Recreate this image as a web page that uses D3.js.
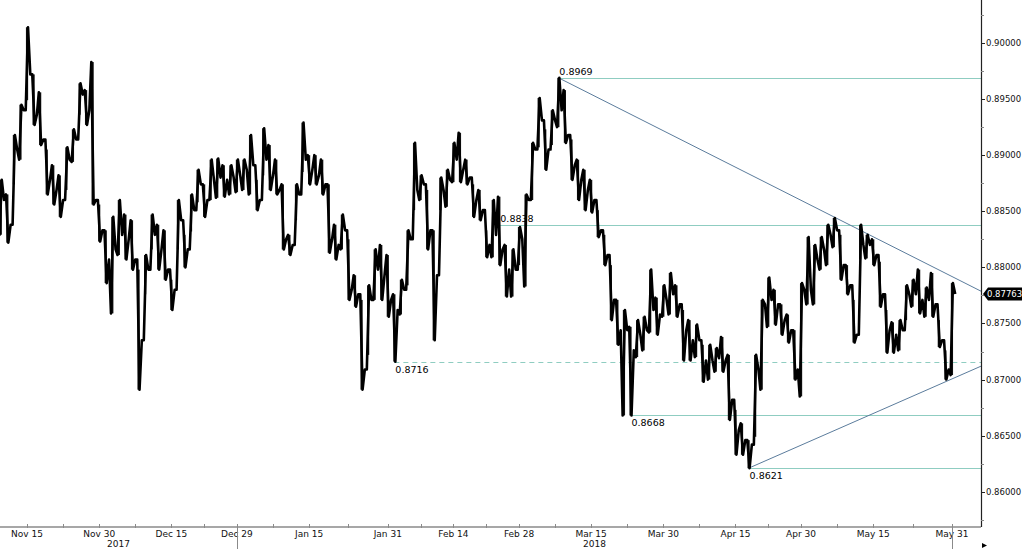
<!DOCTYPE html>
<html><head><meta charset="utf-8">
<script src="https://cdn.jsdelivr.net/npm/d3@7"></script>
<style>body{margin:0;background:#fff}svg{display:block}</style>
</head><body>
<svg id="chart" width="1024" height="549"></svg>
<script>
// ---------- DATA ----------
const firstDay = "2017-11-09"; // first trading day shown (weekdays only)
const highs = [0.8878,0.8865,0.8918,0.8945,0.9014,0.8972,0.8956,0.8905,0.8891,0.8882,
0.8907,0.8923,0.8964,0.8958,0.8983,0.8856,0.8833,0.8845,0.8860,0.8847,
0.8842,0.8798,0.8811,0.8847,0.8838,0.8833,0.8789,0.8860,0.8829,0.8865,
0.8887,0.8874,0.8896,0.8897,0.8891,0.8891,0.8896,0.8896,0.8918,0.8878,
0.8924,0.8909,0.8896,0.8874,0.8829,0.8874,0.8929,0.8900,0.8900,0.8896,
0.8874,0.8838,0.8847,0.8825,0.8793,0.8771,0.8784,0.8816,0.8820,0.8811,
0.8776,0.8789,0.8833,0.8911,0.8882,0.8869,0.8833,0.8880,0.8887,0.8911,
0.8920,0.8896,0.8874,0.8869,0.8833,0.8860,0.8863,0.8820,0.8816,0.8836,
0.8865,0.8911,0.8951,0.8923,0.8940,0.8969,0.8958,0.8914,0.8896,0.8887,
0.8878,0.8851,0.8829,0.8802,0.8771,0.8762,0.8747,0.8753,0.8756,0.8798,
0.8773,0.8784,0.8795,0.8784,0.8762,0.8753,0.8749,0.8731,0.8731,0.8728,
0.8738,0.8722,0.8673,0.8661,0.8646,0.8722,0.8771,0.8791,0.8780,0.8767,
0.8758,0.8744,0.8786,0.8827,0.8820,0.8827,0.8838,0.8844,0.8829,0.8802,
0.8771,0.8838,0.8829,0.8825,0.8805,0.8762,0.8751,0.8753,0.8784,0.8789,
0.8798,0.8782,0.8795,0.8753,0.8726,0.8786];
const lows = [0.8829,0.8822,0.8874,0.8896,0.8949,0.8927,0.8909,0.8865,0.8856,0.8845,
0.8869,0.8894,0.8936,0.8927,0.8856,0.8823,0.8786,0.8759,0.8811,0.8807,
0.8798,0.8691,0.8776,0.8816,0.8798,0.8789,0.8762,0.8816,0.8800,0.8832,
0.8858,0.8845,0.8860,0.8862,0.8863,0.8865,0.8867,0.8869,0.8865,0.8851,
0.8882,0.8869,0.8865,0.8816,0.8811,0.8842,0.8885,0.8874,0.8874,0.8865,
0.8813,0.8807,0.8816,0.8771,0.8765,0.8691,0.8722,0.8771,0.8771,0.8756,
0.8716,0.8758,0.8784,0.8851,0.8860,0.8816,0.8735,0.8851,0.8854,0.8876,
0.8876,0.8874,0.8845,0.8842,0.8809,0.8809,0.8802,0.8774,0.8774,0.8802,
0.8783,0.8860,0.8907,0.8887,0.8909,0.8925,0.8911,0.8878,0.8860,0.8851,
0.8849,0.8827,0.8802,0.8753,0.8731,0.8668,0.8668,0.8720,0.8726,0.8742,
0.8740,0.8756,0.8758,0.8756,0.8717,0.8717,0.8720,0.8698,0.8700,0.8707,
0.8707,0.8664,0.8633,0.8633,0.8621,0.8649,0.8691,0.8747,0.8749,0.8740,
0.8733,0.8700,0.8685,0.8767,0.8767,0.8798,0.8802,0.8818,0.8789,0.8776,
0.8733,0.8807,0.8808,0.8802,0.8765,0.8724,0.8724,0.8726,0.8753,0.8765,
0.8759,0.8756,0.8756,0.8729,0.8700,0.8704];
const closes = [0.8860,0.8838,0.8905,0.8940,0.8972,0.8936,0.8914,0.8878,0.8869,0.8860,
0.8896,0.8914,0.8954,0.8940,0.8860,0.8833,0.8807,0.8816,0.8829,0.8825,
0.8807,0.8735,0.8798,0.8829,0.8816,0.8798,0.8780,0.8842,0.8816,0.8851,
0.8874,0.8860,0.8878,0.8880,0.8878,0.8880,0.8882,0.8887,0.8891,0.8860,
0.8896,0.8882,0.8869,0.8825,0.8820,0.8865,0.8896,0.8887,0.8882,0.8874,
0.8825,0.8820,0.8833,0.8780,0.8776,0.8709,0.8771,0.8798,0.8793,0.8771,
0.8762,0.8780,0.8825,0.8869,0.8874,0.8833,0.8793,0.8869,0.8878,0.8896,
0.8887,0.8880,0.8860,0.8851,0.8820,0.8829,0.8816,0.8798,0.8798,0.8825,
0.8860,0.8905,0.8931,0.8905,0.8931,0.8940,0.8918,0.8891,0.8878,0.8869,
0.8860,0.8833,0.8811,0.8771,0.8744,0.8744,0.8726,0.8740,0.8744,0.8762,
0.8758,0.8771,0.8776,0.8767,0.8744,0.8735,0.8735,0.8717,0.8717,0.8719,
0.8717,0.8682,0.8655,0.8646,0.8642,0.8709,0.8767,0.8771,0.8767,0.8753,
0.8744,0.8709,0.8780,0.8780,0.8807,0.8816,0.8829,0.8833,0.8802,0.8784,
0.8740,0.8820,0.8820,0.8811,0.8776,0.8744,0.8740,0.8744,0.8776,0.8776,
0.8771,0.8771,0.8767,0.8735,0.8709,0.87763];

const xTickDates  = ["2017-11-15","2017-11-30","2017-12-15","2017-12-29","2018-01-15","2018-01-31","2018-02-14","2018-02-28","2018-03-15","2018-03-30","2018-04-15","2018-04-30","2018-05-15","2018-05-31"];
const xTickLabels = ["Nov 15","Nov 30","Dec 15","Dec 29","Jan 15","Jan 31","Feb 14","Feb 28","Mar 15","Mar 30","Apr 15","Apr 30","May 15","May 31"];
const yearLabels  = ["2017","2018"];
const yearEnds    = ["2017-12-29","2018-05-31"];
const yTickValues = [0.860,0.865,0.870,0.875,0.880,0.885,0.890,0.895,0.900];

const levelValues = [0.8969,0.8838,0.8716,0.8668,0.8621];
const levelLabels = ["0.8969","0.8838","0.8716","0.8668","0.8621"];
const levelStarts = ["2018-03-08","2018-02-23","2018-02-01","2018-03-23","2018-04-18"];
const upperTrend  = [["2018-03-08",0.8969],["2018-05-07",0.8845]];
const lowerTrend  = [["2018-04-18",0.8621],["2018-05-30",0.8698]];

// ---------- HELPERS ----------
const parse = d3.utcParse("%Y-%m-%d");
const base = parse("2017-11-15");
function tradingIndex(dateStr){
  const d = parse(dateStr);
  let n = 0;
  if (d >= base){
    for (let t = new Date(base); t < d; t.setUTCDate(t.getUTCDate()+1)){ const w=t.getUTCDay(); if(w!==0&&w!==6) n++; }
  } else {
    for (let t = new Date(d); t < base; t.setUTCDate(t.getUTCDate()+1)){ const w=t.getUTCDay(); if(w!==0&&w!==6) n--; }
  }
  return n;
}
const startIdx = tradingIndex(firstDay);

// ---------- LAYOUT ----------
const W = 1024, H = 549;
const plotRight = 981, axisY = 527;
const x = d3.scaleLinear().domain([-4.12, 145.43]).range([0, plotRight]);
const y = d3.scaleLinear().domain([0.85686, 0.90383]).range([axisY, 0]);

const svg = d3.select("#chart");
svg.append("rect").attr("width",W).attr("height",H).attr("fill","#fff");
svg.append("defs").append("clipPath").attr("id","plotclip")
  .append("rect").attr("x",0).attr("y",0).attr("width",plotRight).attr("height",axisY);

const font = "'DejaVu Sans', Verdana, sans-serif";

// ---------- LEVEL LINES ----------
const gLev = svg.append("g").attr("clip-path","url(#plotclip)");
levelValues.forEach((v,k)=>{
  const x0 = x(tradingIndex(levelStarts[k]));
  gLev.append("line").attr("x1",x0).attr("x2",plotRight)
    .attr("y1",Math.round(y(v))+0.5).attr("y2",Math.round(y(v))+0.5)
    .attr("stroke","#8fcdc1").attr("stroke-width",1)
    .attr("stroke-dasharray", k===2 ? "5,4" : null);
});

// ---------- TREND LINES ----------
function drawTrend(pts){
  const i0 = tradingIndex(pts[0][0]), i1 = tradingIndex(pts[1][0]);
  const slope = (pts[1][1]-pts[0][1])/(i1-i0);
  const iEnd = x.invert(plotRight);
  gLev.append("line")
    .attr("x1",x(i0)).attr("y1",y(pts[0][1]))
    .attr("x2",plotRight).attr("y2",y(pts[0][1]+slope*(iEnd-i0)))
    .attr("stroke","#5b7c9c").attr("stroke-width",1);
}
drawTrend(upperTrend);
drawTrend(lowerTrend);

// ---------- PRICE RIBBON ----------
const pts = [];
closes.forEach((c,k)=>{
  const i = startIdx + k;
  const o = k===0 ? c : closes[k-1];
  const hi = Math.max(highs[k], o, c), lo = Math.min(lows[k], o, c);
  pts.push([i-0.5, o]);
  if (c >= o){ pts.push([i-0.2, lo]); pts.push([i+0.15, hi]); }
  else { pts.push([i-0.2, hi]); pts.push([i+0.15, lo]); }
  pts.push([i+0.5, c]);
});
const gPrice = svg.append("g").attr("clip-path","url(#plotclip)");
gPrice.selectAll("line.bar").data(closes).enter().append("line")
  .attr("x1",(c,k)=>x(startIdx+k)).attr("x2",(c,k)=>x(startIdx+k))
  .attr("y1",(c,k)=>y(highs[k])).attr("y2",(c,k)=>y(lows[k]))
  .attr("stroke","#111").attr("stroke-width",2.2);
gPrice.append("path")
  .attr("d", d3.line().x(d=>x(d[0])).y(d=>y(d[1]))(pts))
  .attr("fill","none").attr("stroke","#000").attr("stroke-width",2.6)
  .attr("stroke-linejoin","round");

// ---------- LEVEL LABELS ----------
const above = [true,true,false,false,false];
levelValues.forEach((v,k)=>{
  const x0 = x(tradingIndex(levelStarts[k]));
  svg.append("text").attr("x",x0+1).attr("y", above[k] ? y(v)-2.5 : y(v)+11)
    .attr("font-family",font).attr("font-size","9.5px").attr("fill","#000")
    .text(levelLabels[k]);
});

// ---------- X AXIS ----------
svg.append("line").attr("x1",0).attr("x2",plotRight).attr("y1",axisY).attr("y2",axisY)
  .attr("stroke","#8a8a8a").attr("stroke-width",1.5);
const tickIdx = xTickDates.map(tradingIndex);
const minorIdx = tickIdx.slice(0,-1).map((t,k)=>(t+tickIdx[k+1])/2);
const gx = svg.append("g");
gx.selectAll("line.maj").data(tickIdx.concat(minorIdx)).enter().append("line")
  .attr("x1",d=>Math.round(x(d))+0.5).attr("x2",d=>Math.round(x(d))+0.5)
  .attr("y1",axisY-3).attr("y2",axisY+1).attr("stroke","#8a8a8a").attr("stroke-width",1);
gx.selectAll("text").data(xTickLabels).enter().append("text")
  .attr("x",(d,k)=>x(tickIdx[k])).attr("y",537)
  .attr("text-anchor","middle").attr("font-family",font).attr("font-size","9px").attr("fill","#111")
  .text(d=>d);
// year separators & labels
const yearX = yearEnds.map(d=>x(tradingIndex(d)));
yearX.forEach(xx=>{
  svg.append("line").attr("x1",Math.round(xx)+0.5).attr("x2",Math.round(xx)+0.5)
    .attr("y1",axisY).attr("y2",H).attr("stroke","#8a8a8a").attr("stroke-width",1);
});
yearLabels.forEach((lab,k)=>{
  const a = k===0 ? 0 : yearX[k-1];
  svg.append("text").attr("x",(a+yearX[k])/2).attr("y",547)
    .attr("text-anchor","middle").attr("font-family",font).attr("font-size","9px").attr("fill","#111")
    .text(lab);
});
// small arrow bottom right
svg.append("path").attr("d",`M${plotRight+1},${543}L${plotRight+6},${545.5}L${plotRight+1},${548}Z`).attr("fill","#000");

// ---------- Y AXIS (right) ----------
svg.append("line").attr("x1",plotRight+0.5).attr("x2",plotRight+0.5).attr("y1",0).attr("y2",axisY)
  .attr("stroke","#222").attr("stroke-width",1.2);
const fmt = d3.format(".5f");
const gy = svg.append("g");
yTickValues.forEach(v=>{
  gy.append("line").attr("x1",plotRight).attr("x2",plotRight+4)
    .attr("y1",Math.round(y(v))+0.5).attr("y2",Math.round(y(v))+0.5).attr("stroke","#222");
  gy.append("text").attr("x",plotRight+5).attr("y",y(v)+3)
    .attr("font-family",font).attr("font-size","8.5px").attr("fill","#111").text(fmt(v));
});
const minorY = d3.range(yTickValues.length+1).map(k=>yTickValues[0]-0.0025+k*0.005);
minorY.forEach(v=>{
  if (y(v)>1 && y(v)<axisY-1)
  gy.append("line").attr("x1",plotRight).attr("x2",plotRight+3)
    .attr("y1",Math.round(y(v))+0.5).attr("y2",Math.round(y(v))+0.5).attr("stroke","#888");
});

// last value tag
const last = closes[closes.length-1];
const ly = y(last);
svg.append("path")
  .attr("d",`M${plotRight+2},${ly}L${plotRight+7},${ly-6.5}L${W-2},${ly-6.5}L${W-2},${ly+6.5}L${plotRight+7},${ly+6.5}Z`)
  .attr("fill","#000");
svg.append("text").attr("x",plotRight+6).attr("y",ly+3)
  .attr("font-family",font).attr("font-size","8.5px").attr("fill","#fff").text(fmt(last));
</script>
</body></html>
